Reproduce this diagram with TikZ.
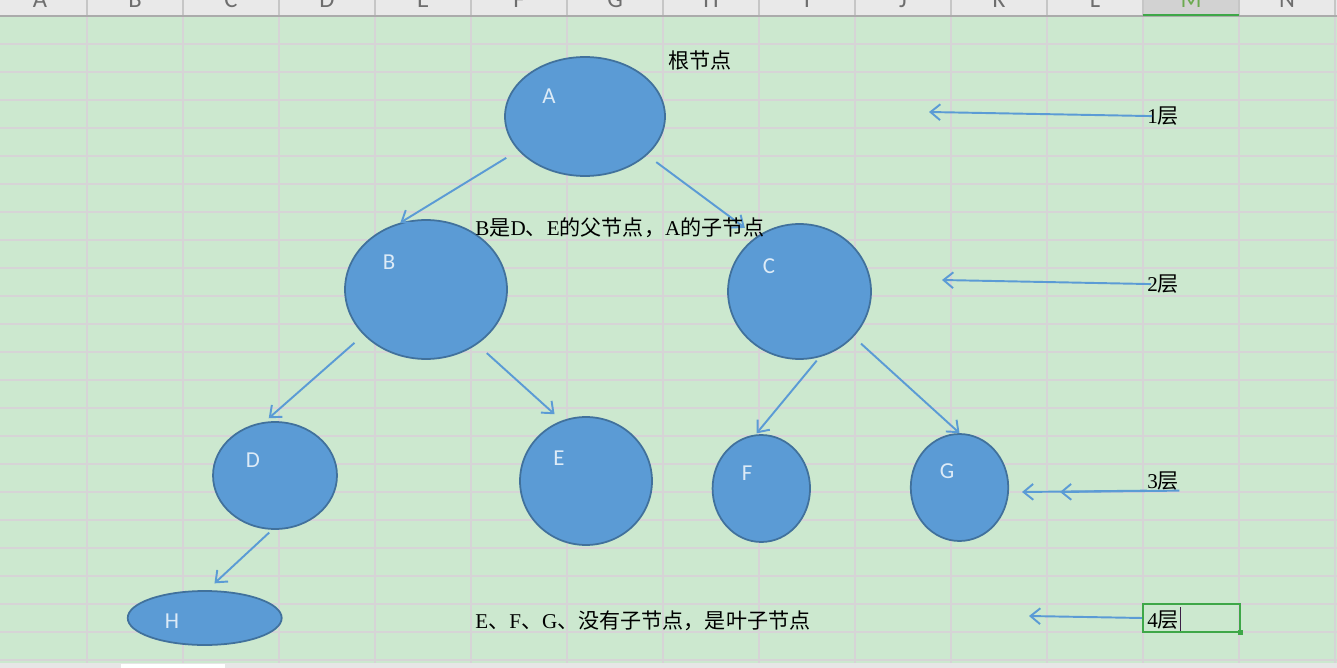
\documentclass[tikz,border=0pt]{standalone}
\usepackage{fontspec}
\setmainfont{Liberation Serif}
\newfontfamily\cjk{Noto Sans CJK SC}
\newfontfamily\calib{Carlito}
\usetikzlibrary{shapes.geometric,arrows.meta}
\definecolor{sheetgreen}{RGB}{204,232,207}
\definecolor{gridgray}{RGB}{214,212,214}
\definecolor{hdrgray}{RGB}{233,233,233}
\definecolor{hdrline}{RGB}{171,171,171}
\definecolor{hdrsep}{RGB}{198,198,198}
\definecolor{hdrtext}{RGB}{110,110,110}
\definecolor{selgray}{RGB}{210,210,210}
\definecolor{selgreen}{RGB}{62,167,72}
\definecolor{seltext}{RGB}{108,170,80}
\definecolor{nodefill}{RGB}{91,155,213}
\definecolor{nodeline}{RGB}{65,113,156}
\definecolor{nodetext}{RGB}{221,235,247}
\definecolor{tabgray}{RGB}{230,230,230}
\definecolor{cursor}{RGB}{60,30,70}

\begin{document}
\begin{tikzpicture}[x=0.02cm, y=-0.02cm,
    treenode/.style={shape=ellipse, draw=nodeline, fill=nodefill, line width=1pt, inner sep=0pt},
    nodeletter/.style={text=nodetext, font=\calib\fontsize{13}{15}\selectfont, inner sep=0pt},
    colletter/.style={anchor=base, inner sep=0pt, text=hdrtext, font=\calib\fontsize{14}{16}\selectfont},
    note/.style={anchor=west, inner sep=0pt, font=\fontsize{12}{14}\selectfont},
    edge/.style={draw=nodefill, line width=1.1pt, -{Straight Barb[length=5.5pt,width=9pt]}},
  ]
            \useasboundingbox (0,0) rectangle (1337,668);
            \clip (0,0) rectangle (1337,668);
            % Sheet, grid and headers:
            \fill[sheetgreen] (0,16) rectangle (1337,668);
            \foreach \y in {44,72,...,660} \draw[gridgray, line width=0.6pt] (0,\y) -- (1337,\y);
            \foreach \x in {87,183,...,1335} \draw[gridgray, line width=0.6pt] (\x,16) -- (\x,664);
            \fill[hdrgray] (0,0) rectangle (1337,16);
            \fill[selgray] (1143,0) rectangle (1239,16);
            \foreach \x in {87,183,...,1335} \draw[hdrsep, line width=0.6pt] (\x,0) -- (\x,16);
            \draw[hdrline, line width=0.6pt] (0,16) -- (1337,16);
            \fill[selgreen] (1143,14) rectangle (1239,16.5);
            \foreach \c/\x in {A/40,B/135,C/231,D/327,E/423,F/519,G/615,H/711,I/807,J/903,K/999,L/1095,N/1287}
                \node[colletter] (col-\c) at (\x,7.5) {\c};
            \node[colletter, text=seltext] (col-M) at (1191,7.5) {M};
            \fill[tabgray] (0,663) rectangle (1337,668);
            \fill[white] (121,664) rectangle (225,668);
            % Tree nodes:
            \node[treenode, minimum width=3.2cm, minimum height=2.38cm] (A) at (585,116.5) {};
            \node[treenode, minimum width=3.24cm, minimum height=2.78cm] (B) at (426,289.5) {};
            \node[treenode, minimum width=2.86cm, minimum height=2.7cm] (C) at (799.5,291.5) {};
            \node[treenode, minimum width=2.48cm, minimum height=2.14cm] (D) at (275,475.5) {};
            \node[treenode, minimum width=2.64cm, minimum height=2.56cm] (E) at (586,481) {};
            \node[treenode, minimum width=1.95cm, minimum height=2.14cm] (F) at (761.3,488.5) {};
            \node[treenode, minimum width=1.95cm, minimum height=2.14cm] (G) at (959.5,487.5) {};
            \node[treenode, minimum width=3.08cm, minimum height=1.08cm] (H) at (204.7,618) {};
            \node[nodeletter] (Alab) at (549,96) {A};
            \node[nodeletter] (Blab) at (389,262) {B};
            \node[nodeletter] (Clab) at (769,266) {C};
            \node[nodeletter] (Dlab) at (253,460) {D};
            \node[nodeletter] (Elab) at (559,458) {E};
            \node[nodeletter] (Flab) at (747,473) {F};
            \node[nodeletter] (Glab) at (947,471) {G};
            \node[nodeletter] (Hlab) at (172,621) {H};
            % Tree edges:
            \draw[edge, shorten <=0.28cm] (A.207) -- (B.111);
            \draw[edge, shorten <=0.23cm, shorten >=0.29cm] (A.328) -- (C.128);
            \draw[edge, shorten <=0.24cm, shorten >=0.11cm] (B.216) -- (D.101);
            \draw[edge, shorten <=0.26cm, shorten >=0.19cm] (B.313) -- (E.112);
            \draw[edge, shorten <=0.09cm, shorten >=0.03cm] (C.287) -- (F.96);
            \draw[edge, shorten <=0.2cm] (C.320) -- (G.north);
            \draw[edge, shorten <=0.08cm, shorten >=0.2cm] (D.267) -- (H.85);
            % Notes:
            \node[note] (rootnote) at (668,60) {\cjk 根节点};
            \node[note] (parentnote) at (475,228) {B{\cjk 是}D{\cjk 、}E{\cjk 的父节点，}A{\cjk 的子节点}};
            \node[note] (leafnote) at (475,621) {E{\cjk 、}F{\cjk 、}G{\cjk 、没有子节点，是叶子节点}};
            % Levels:
            \node[draw=selgreen, line width=1.2pt, minimum width=1.94cm, minimum height=0.56cm, inner sep=0pt] (cellM) at (1191.5,618) {};
            \fill[selgreen] (1237.5,629.5) rectangle (1242.5,634.5);
            \node[note] (lev1) at (1147,116) {1{\cjk 层}};
            \node[note] (lev2) at (1147,284) {2{\cjk 层}};
            \node[note] (lev3) at (1147,481) {3{\cjk 层}};
            \node[note] (lev4) at (1147,620) {4{\cjk 层}};
            \draw[cursor, line width=0.5pt] (1180,607) -- (1180,631);
            \coordinate (tip1) at (929,112);
            \coordinate (tip2) at (942,280);
            \coordinate (tip3a) at (1022,492);
            \coordinate (tip3b) at (1060,492);
            \coordinate (tip4) at (1029,616);
            \draw[edge, shorten <=-0.1cm] (lev1.west) -- (tip1);
            \draw[edge, shorten <=-0.08cm] (lev2.west) -- (tip2);
            \draw[edge] (lev3.south west) -- (tip3a);
            \draw[edge] (lev3.south east) -- (tip3b);
            \draw[edge] (cellM.west) -- (tip4);
        \end{tikzpicture}
\end{document}
